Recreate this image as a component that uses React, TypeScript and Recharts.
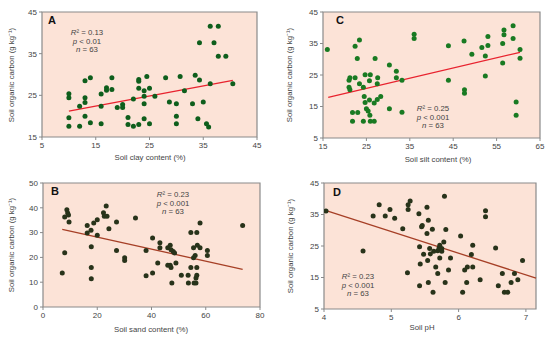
import React from "react";
import { ScatterChart, Scatter, XAxis, YAxis, CartesianGrid, ReferenceArea, ReferenceLine } from "recharts";

// Panel A: clay
const clayX = [10, 10, 10, 10, 12, 12, 13, 13, 13, 13, 14, 14, 16, 16, 16, 17, 17, 18, 18, 19, 20, 20, 21, 21, 22, 22, 23, 23, 23, 23, 24, 24, 24, 24, 24.5, 25, 25, 26, 28, 28.7, 30, 30, 30, 30.7, 31.5, 33, 33.5, 34, 34.3, 34.3, 35, 35.6, 36, 36.3, 36.3, 37, 37.8, 37.8, 39.2, 40.5];
const clayY = [25.4, 24.4, 19.6, 17.6, 22.4, 17.6, 28.5, 24.4, 23.3, 20.0, 29.2, 18.4, 25.3, 22.4, 18.2, 26.8, 26.2, 29.2, 26.4, 22.1, 22.8, 22.1, 19.7, 18.0, 17.6, 24.1, 18.0, 28.8, 28.4, 26.7, 26.1, 24.8, 23.0, 19.4, 29.5, 26.7, 18.2, 24.8, 29.2, 23.4, 20.0, 18.2, 23.0, 29.5, 26.1, 23.0, 29.8, 19.4, 28.7, 37.6, 23.4, 18.2, 17.4, 41.6, 27.8, 37.6, 41.6, 34.4, 34.4, 27.8];
const clayFitX = [10, 40.5];
const clayFitY = [21.2, 28.6];

// Panel C: silt
const siltX = [16, 21, 21.2, 21, 21.2, 21.8, 21.8, 22.4, 22.4, 22.9, 23, 23.4, 23.4, 24.3, 24.3, 24.5, 24.7, 24.7, 25, 25.4, 25.7, 25.7, 25.8, 25.9, 25.9, 27, 26.8, 26.8, 27.6, 27.5, 27.5, 28.3, 30.3, 30.3, 31.9, 31.9, 33.2, 33.2, 36, 36, 43.9, 43.9, 47.5, 47.6, 47.6, 49.3, 51.6, 52.4, 52.4, 53, 53, 56.4, 56.4, 56.7, 56.7, 58.8, 58.8, 59.5, 59.5, 60.4, 60.4];
const siltY = [33.1, 23.3, 24.1, 21.1, 20.3, 13.1, 10.3, 34.1, 24.1, 30.2, 13.1, 36.1, 22.2, 21.1, 10.3, 18.2, 25.1, 16.3, 14.3, 13.6, 23.2, 17.1, 12.2, 25.1, 10.3, 30.2, 16.1, 10.3, 24.1, 22.2, 17.2, 18.2, 28.2, 14.3, 26.2, 24.1, 23.3, 13.2, 37.9, 36.6, 34.3, 23.3, 35.8, 20.3, 19.2, 31.6, 33.7, 31.0, 24.7, 34.4, 37.2, 35.0, 28.8, 39.3, 37.8, 40.6, 36.6, 16.4, 12.2, 33.1, 30.3];
const siltFitX = [16.2, 60.4];
const siltFitY = [17.9, 32.2];

// Panel B: sand
const sandX = [7.1, 8, 8, 8.8, 9.1, 9.4, 9.6, 16.3, 16.3, 17.7, 17.8, 17.8, 17.8, 18.7, 20, 20, 22.3, 22.6, 23.6, 23.3, 24.3, 27.1, 27.1, 30.1, 30.1, 34.1, 38, 38, 40.4, 40.4, 42.3, 43.1, 43.1, 46, 46, 46.9, 46.9, 47.2, 47.2, 47.5, 48, 48.5, 49, 51, 53.5, 53.6, 54.5, 54.5, 55.5, 55.5, 55.7, 56.1, 56.7, 56.7, 56.4, 56.7, 56.9, 56.4, 57.9, 57.9, 60.6, 60.6, 73.6];
const sandY = [13.7, 36.3, 21.9, 39.2, 37.9, 37.1, 34.3, 32.9, 29.8, 30.9, 24.3, 15.9, 11.4, 33.9, 35.2, 28.9, 38.0, 36.6, 36.6, 40.7, 31.6, 34.3, 22.8, 19.9, 18.8, 35.9, 22.8, 12.6, 27.8, 13.7, 17.7, 25.9, 23.9, 16.8, 23.9, 24.9, 16.8, 23.1, 15.9, 9.7, 22.4, 21.8, 17.7, 12.8, 12.8, 9.7, 30, 15.9, 19.9, 23.9, 9.7, 20.8, 30, 15.9, 11.7, 12.8, 24.9, 9.7, 33.9, 23.9, 22.8, 20.8, 32.9];
const sandFitX = [7.1, 73.6];
const sandFitY = [31.3, 15.2];

// Panel D: pH
const phX = [4.03, 4.58, 4.73, 4.82, 4.91, 4.98, 5.05, 5.17, 5.24, 5.25, 5.25, 5.28, 5.41, 5.42, 5.42, 5.43, 5.45, 5.46, 5.48, 5.53, 5.53, 5.54, 5.55, 5.55, 5.57, 5.58, 5.61, 5.62, 5.63, 5.66, 5.69, 5.69, 5.71, 5.72, 5.72, 5.75, 5.75, 5.78, 5.79, 5.8, 5.81, 5.85, 5.88, 6.03, 6.06, 6.09, 6.12, 6.13, 6.19, 6.21, 6.21, 6.32, 6.4, 6.4, 6.55, 6.59, 6.65, 6.68, 6.73, 6.78, 6.83, 6.88, 6.95];
const phY = [36.1, 23.4, 34.5, 38.1, 34.5, 36.6, 33.8, 30.5, 16.5, 38.1, 36.6, 39.3, 35.2, 24.8, 12.4, 19.3, 31.1, 31.5, 22.4, 37.3, 29.0, 20.4, 33.2, 13.4, 24.2, 22.5, 30.3, 10.3, 23.3, 18.3, 16.3, 23.5, 24.4, 25.2, 21.2, 23.3, 24.2, 26.3, 40.8, 13.4, 30.2, 17.4, 21.2, 28.2, 10.3, 17.4, 13.4, 18.3, 22.3, 25.2, 18.3, 14.3, 34.3, 36.2, 24.4, 12.4, 16.3, 10.3, 10.3, 13.4, 16.3, 14.3, 20.4];
const phFitX = [4.01, 7.15];
const phFitY = [36.4, 14.8];

const FONT = "'Liberation Sans', Arial, sans-serif";
const TXT = "#444";
const BG = "#fce3d7";
const BORDER = "#8a8a8a";

type PanelProps = {
  left: number;
  top: number;
  width: number;
  height: number;
  margin: { top: number; right: number; bottom: number; left: number };
  yWidth: number;
  xDomain: [number, number];
  yDomain: [number, number];
  xTicks: number[];
  yTicks: number[];
  xs: number[];
  ys: number[];
  fitX: number[];
  fitY: number[];
  dot: string;
  line: string;
};

function Panel(p: PanelProps) {
  const pts = p.xs.map((x, i) => ({ x, y: p.ys[i] }));
  const tick = { fontSize: 8, fill: TXT, fontFamily: FONT };
  return (
    <div style={{ position: "absolute", left: p.left, top: p.top }}>
      <ScatterChart width={p.width} height={p.height} margin={p.margin}>
        <CartesianGrid horizontal={false} vertical={false} fill={BG} />
        <XAxis
          type="number"
          dataKey="x"
          domain={p.xDomain}
          ticks={p.xTicks}
          allowDataOverflow
          axisLine={false}
          tickLine={{ stroke: BORDER }}
          tickSize={3}
          tick={tick}
          height={14}
        />
        <YAxis
          type="number"
          dataKey="y"
          domain={p.yDomain}
          ticks={p.yTicks}
          allowDataOverflow
          axisLine={false}
          tickLine={{ stroke: BORDER }}
          tickSize={3}
          tick={tick}
          width={p.yWidth}
        />
        <ReferenceArea
          x1={p.xDomain[0]}
          x2={p.xDomain[1]}
          y1={p.yDomain[0]}
          y2={p.yDomain[1]}
          fill="none"
          stroke={BORDER}
          strokeWidth={1.2}
        />
        <ReferenceLine
          segment={[
            { x: p.fitX[0], y: p.fitY[0] },
            { x: p.fitX[1], y: p.fitY[1] },
          ]}
          stroke={p.line}
          strokeWidth={1.3}
        />
        <Scatter
          data={pts}
          isAnimationActive={false}
          shape={(s: any) => <circle cx={s.cx} cy={s.cy} r={2.5} fill={p.dot} />}
        />
      </ScatterChart>
    </div>
  );
}

function Txt({ x, y, children, size = 7.8, bold = false }: any) {
  return (
    <div
      style={{
        position: "absolute",
        left: x,
        top: y,
        transform: "translate(-50%, -50%)",
        whiteSpace: "nowrap",
        fontFamily: FONT,
        fontSize: size,
        fontWeight: bold ? "bold" : "normal",
        color: bold ? "#111" : TXT,
        lineHeight: 1,
      }}
    >
      {children}
    </div>
  );
}

function YTitle({ x, y }: { x: number; y: number }) {
  return (
    <div
      style={{
        position: "absolute",
        left: x,
        top: y,
        transform: "translate(-50%, -50%) rotate(-90deg)",
        whiteSpace: "nowrap",
        fontFamily: FONT,
        fontSize: 7.8,
        color: TXT,
        lineHeight: 1,
      }}
    >
      Soil organic carbon (g kg⁻¹)
    </div>
  );
}

function Stats({ x, y, r2, p }: { x: number; y: number; r2: string; p: string }) {
  return (
    <>
      <Txt x={x} y={y}>
        <i>R</i>² = {r2}
      </Txt>
      <Txt x={x} y={y + 8.5}>
        <i>p</i> &lt; {p}
      </Txt>
      <Txt x={x} y={y + 17}>
        <i>n</i> = 63
      </Txt>
    </>
  );
}

export default function App() {
  return (
    <div style={{ position: "absolute", left: 0, top: 0, width: 550, height: 341, background: "#fff", overflow: "hidden" }}>
      <Panel
        left={0}
        top={0}
        width={275}
        height={170}
        margin={{ top: 12, right: 18, bottom: 19, left: 12 }}
        yWidth={30}
        xDomain={[5, 45]}
        yDomain={[15, 45]}
        xTicks={[5, 15, 25, 35, 45]}
        yTicks={[15, 25, 35, 45]}
        xs={clayX}
        ys={clayY}
        fitX={clayFitX}
        fitY={clayFitY}
        dot="#0e5e1c"
        line="#e8222e"
      />
      <Panel
        left={275}
        top={0}
        width={275}
        height={170}
        margin={{ top: 12, right: 10, bottom: 18, left: 18 }}
        yWidth={30}
        xDomain={[15, 65]}
        yDomain={[5, 45]}
        xTicks={[15, 25, 35, 45, 55, 65]}
        yTicks={[5, 15, 25, 35, 45]}
        xs={siltX}
        ys={siltY}
        fitX={siltFitX}
        fitY={siltFitY}
        dot="#197a22"
        line="#e8222e"
      />
      <Panel
        left={0}
        top={170}
        width={275}
        height={171}
        margin={{ top: 13, right: 15, bottom: 20, left: 13 }}
        yWidth={30}
        xDomain={[0, 80]}
        yDomain={[0, 50]}
        xTicks={[0, 20, 40, 60, 80]}
        yTicks={[0, 10, 20, 30, 40, 50]}
        xs={sandX}
        ys={sandY}
        fitX={sandFitX}
        fitY={sandFitY}
        dot="#28331a"
        line="#a63f26"
      />
      <Panel
        left={275}
        top={170}
        width={275}
        height={171}
        margin={{ top: 13, right: 14, bottom: 18, left: 19 }}
        yWidth={30}
        xDomain={[4, 7.15]}
        yDomain={[5, 45]}
        xTicks={[4, 5, 6, 7]}
        yTicks={[5, 15, 25, 35, 45]}
        xs={phX}
        ys={phY}
        fitX={phFitX}
        fitY={phFitY}
        dot="#28331a"
        line="#a63f26"
      />

      <Txt x={52} y={20} size={11} bold>A</Txt>
      <Txt x={340} y={20} size={11} bold>C</Txt>
      <Txt x={55} y={191} size={11} bold>B</Txt>
      <Txt x={337} y={192} size={11} bold>D</Txt>

      <Stats x={87} y={33} r2="0.13" p="0.01" />
      <Stats x={433} y={109} r2="0.25" p="0.001" />
      <Stats x={173} y={195} r2="0.23" p="0.001" />
      <Stats x={358} y={277} r2="0.23" p="0.001" />

      <YTitle x={12} y={75} />
      <YTitle x={290} y={75} />
      <YTitle x={12} y={245} />
      <YTitle x={291} y={246} />

      <Txt x={150} y={158}>Soil clay content (%)</Txt>
      <Txt x={438} y={160}>Soil silt content (%)</Txt>
      <Txt x={151} y={330}>Soil sand content (%)</Txt>
      <Txt x={422} y={328}>Soil pH</Txt>
    </div>
  );
}
